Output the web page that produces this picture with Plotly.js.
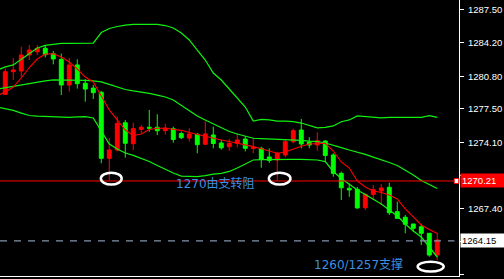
<!DOCTYPE html>
<html>
<head>
<meta charset="utf-8">
<script src="https://cdn.plot.ly/plotly-3.0.1.min.js"></script>
<style>html,body{margin:0;padding:0;background:#000;}#chart{width:504px;height:279px;}</style>
</head>
<body>
<div id="chart"></div>
<script>
// ---- data ----
const candleIdx = Array.from({length: 55}, (_, i) => i);
const openP  = [1278.97,1281.26,1281.33,1282.95,1283.28,1283.63,1283.08,1282.50,1279.92,1281.94,1280.09,1279.60,1279.18,1272.50,1273.34,1276.10,1273.98,1275.43,1275.64,1275.64,1275.30,1275.50,1275.00,1274.55,1274.93,1273.92,1274.86,1274.05,1273.67,1274.02,1274.45,1273.51,1273.51,1272.64,1272.33,1272.84,1274.18,1275.36,1274.12,1273.85,1274.25,1272.84,1270.98,1269.47,1269.37,1267.51,1268.86,1269.20,1269.57,1267.10,1266.54,1265.86,1265.58,1264.92,1262.72];
const highP  = [1281.60,1282.65,1283.79,1283.96,1283.96,1283.89,1283.35,1283.10,1282.65,1282.51,1280.50,1279.92,1279.30,1274.55,1276.71,1276.37,1276.10,1275.87,1277.39,1276.96,1276.00,1275.70,1275.20,1275.54,1275.05,1276.27,1275.70,1274.35,1274.45,1275.03,1274.75,1274.52,1273.67,1273.51,1273.17,1274.42,1275.50,1276.48,1274.63,1275.13,1274.35,1273.01,1271.15,1269.97,1269.60,1268.96,1269.80,1269.90,1270.03,1268.12,1266.77,1265.86,1265.86,1264.92,1264.98];
const lowP   = [1278.90,1280.42,1280.69,1282.44,1282.95,1282.70,1282.00,1278.90,1279.24,1279.55,1278.23,1278.50,1272.00,1270.25,1273.20,1272.57,1273.34,1275.03,1275.19,1274.85,1274.90,1274.08,1274.45,1274.20,1273.01,1273.85,1273.50,1273.38,1273.25,1273.60,1273.20,1273.00,1271.55,1272.03,1270.25,1272.60,1274.02,1273.50,1273.51,1273.27,1272.15,1270.64,1268.29,1268.60,1267.42,1267.27,1268.29,1267.80,1266.77,1266.43,1264.92,1265.08,1263.73,1262.55,1262.22];
const closeP = [1281.26,1281.43,1282.95,1283.45,1283.63,1282.98,1282.55,1279.92,1281.94,1280.05,1279.50,1279.14,1272.50,1273.34,1276.04,1274.02,1275.50,1275.64,1275.55,1275.29,1275.56,1274.40,1274.59,1274.96,1273.88,1274.96,1274.00,1273.56,1274.02,1274.35,1273.51,1273.60,1272.40,1272.28,1273.01,1274.18,1275.30,1273.95,1273.85,1274.28,1272.79,1270.98,1269.52,1269.30,1267.48,1268.86,1269.33,1269.50,1267.00,1266.43,1265.83,1265.42,1264.92,1262.72,1264.24];

// indicator lines start one bar before the first visible candle
const lineIdx = Array.from({length: 56}, (_, i) => i - 1);
const bbUpper = [1281.43,1281.74,1281.94,1282.54,1283.15,1283.66,1283.93,1284.06,1284.13,1284.13,1284.13,1284.13,1284.16,1285.22,1285.63,1285.83,1285.98,1286.05,1286.05,1286.05,1286.05,1285.93,1285.68,1285.17,1284.47,1283.45,1282.44,1281.13,1280.42,1279.51,1278.55,1277.69,1276.27,1276.43,1276.38,1276.27,1276.27,1276.22,1276.07,1275.82,1275.57,1275.62,1275.77,1276.20,1276.38,1276.78,1276.73,1276.63,1276.58,1276.65,1276.65,1276.65,1276.65,1276.65,1276.81,1276.63];
const bbMiddle = [1279.51,1279.66,1279.81,1279.94,1280.10,1280.22,1280.34,1280.42,1280.42,1280.42,1280.42,1280.39,1280.32,1280.22,1279.97,1279.71,1279.46,1279.31,1279.21,1279.06,1278.90,1278.70,1278.40,1277.84,1277.29,1276.78,1276.38,1275.97,1275.57,1275.21,1274.96,1274.71,1274.53,1274.50,1274.47,1274.45,1274.42,1274.38,1274.32,1274.25,1274.20,1274.05,1273.85,1273.59,1273.34,1273.14,1272.89,1272.63,1272.38,1272.08,1271.77,1271.32,1270.81,1270.26,1269.85,1269.45];
const bbLower = [1277.69,1277.54,1277.34,1277.08,1276.83,1276.76,1276.72,1276.68,1276.65,1276.65,1276.68,1276.71,1276.58,1275.26,1273.95,1273.44,1273.04,1272.79,1272.48,1272.18,1271.77,1271.37,1271.02,1270.71,1270.64,1270.64,1270.76,1270.91,1270.97,1271.17,1271.52,1271.93,1272.33,1272.38,1272.40,1272.40,1272.40,1272.40,1272.40,1272.38,1272.33,1272.16,1271.17,1270.46,1269.85,1269.30,1268.84,1268.39,1267.88,1267.27,1266.67,1265.86,1265.15,1264.54,1263.53,1262.52];
const maLine = [1278.85,1279.21,1279.71,1280.62,1281.68,1282.54,1283.05,1283.07,1282.75,1282.24,1281.53,1280.72,1280.22,1278.80,1277.39,1276.38,1275.36,1274.81,1274.96,1275.42,1275.54,1275.54,1275.47,1275.33,1275.11,1274.91,1274.71,1274.53,1274.35,1274.20,1274.05,1273.85,1273.68,1273.47,1273.24,1273.01,1273.14,1273.44,1273.72,1273.95,1274.02,1274.02,1273.24,1272.13,1271.52,1270.21,1269.60,1269.20,1269.04,1268.79,1268.39,1267.38,1266.57,1265.76,1265.30,1264.90];

const tickVals = [1287.50,1284.20,1280.80,1277.50,1274.10,1270.80,1267.40,1264.10,1260.80];
// labels at 1270.80 and 1264.10 are covered by the price boxes in the reference
const tickText = ['1287.50','1284.20','1280.80','1277.50','1274.10','','1267.40','','1260.80'];
const resistanceLevel = 1270.21;
const lastPrice = 1264.15;
const noteTexts = ['1270由支转阻', '1260/1257支撑'];

// ---- traces ----
const UP = '#ff0000', DOWN = '#00ff00', BAND = '#10f010';
const traces = [
  {type:'scatter', mode:'lines', x: lineIdx, y: bbUpper, line:{color:BAND, width:1.25}, hoverinfo:'skip'},
  {type:'scatter', mode:'lines', x: lineIdx, y: bbMiddle, line:{color:BAND, width:1.25}, hoverinfo:'skip'},
  {type:'scatter', mode:'lines', x: lineIdx, y: bbLower, line:{color:BAND, width:1.25}, hoverinfo:'skip'},
  {type:'candlestick', x: candleIdx, open: openP, high: highP, low: lowP, close: closeP,
   increasing:{line:{color:UP, width:1}, fillcolor:UP},
   decreasing:{line:{color:DOWN, width:1}, fillcolor:DOWN},
   whiskerwidth:0, hoverinfo:'skip'},
  {type:'scatter', mode:'lines', x: lineIdx, y: maLine, line:{color:'#ff0000', width:1.1}, hoverinfo:'skip'}
];

const layout = {
  width: 504, height: 279,
  margin: {l:0, r:45, t:0, b:3, pad:0},
  paper_bgcolor:'#000', plot_bgcolor:'#000',
  showlegend:false,
  xaxis: {range:[-0.66, 56.715], showgrid:false, zeroline:false, showticklabels:false, ticks:'',
          showline:true, linecolor:'#ffffff', linewidth:1, rangeslider:{visible:false}, fixedrange:true},
  yaxis: {side:'right', range:[1260.60, 1288.51], showgrid:false, zeroline:false,
          tickmode:'array', tickvals: tickVals, ticktext: tickText,
          ticks:'outside', ticklen:4, tickcolor:'#ffffff', ticklabelstandoff:2,
          showline:true, linecolor:'#ffffff', linewidth:1,
          tickfont:{family:'Liberation Sans, Arial, sans-serif', size:9.5, color:'#ffffff'}},
  shapes: [
    {type:'line', xref:'paper', x0:0, x1:1, yref:'y', y0:resistanceLevel, y1:resistanceLevel, line:{color:'#ff0000', width:1}},
    {type:'line', xref:'paper', x0:0, x1:0.99, yref:'y', y0:lastPrice, y1:lastPrice, line:{color:'#8294aa', width:1.2, dash:'7px,7px'}},
    {type:'rect', xref:'paper', x0:0.9895, x1:0.9995, yref:'y', y0:resistanceLevel-0.25, y1:resistanceLevel+0.25, fillcolor:'#ffffff', line:{color:'#ff0000', width:1}},
    {type:'circle', xref:'x', yref:'y', x0:11.95, x1:14.55, y0:1269.85, y1:1271.05, line:{color:'#ffffff', width:2.5}},
    {type:'circle', xref:'x', yref:'y', x0:32.95, x1:35.65, y0:1269.85, y1:1271.05, line:{color:'#ffffff', width:2.5}},
    {type:'circle', xref:'x', yref:'y', x0:51.55, x1:54.8, y0:1261.05, y1:1262.05, line:{color:'#ffffff', width:2.5}}
  ],
  annotations: [
    {xref:'paper', x:1, xanchor:'left', xshift:1, yref:'y', y:resistanceLevel, yanchor:'middle',
     text: resistanceLevel.toFixed(2), showarrow:false, bgcolor:'#ff0000', width:43, height:11, align:'left',
     font:{family:'Liberation Sans, Arial, sans-serif', size:9.5, color:'#ffffff'}},
    {xref:'paper', x:1, xanchor:'left', xshift:1, yref:'y', y:lastPrice, yanchor:'middle',
     text: lastPrice.toFixed(2), showarrow:false, bgcolor:'#ffffff', width:43, height:11, align:'left',
     font:{family:'Liberation Sans, Arial, sans-serif', size:9.5, color:'#000000'}},
    {xref:'x', x:26.28, yref:'y', y:1269.99, text: noteTexts[0], showarrow:false,
     font:{family:'DejaVu Sans, Noto Sans CJK SC, sans-serif', size:12, color:'#3d8fe0'}},
    {xref:'x', x:44.2, yref:'y', y:1261.81, text: noteTexts[1], showarrow:false,
     font:{family:'DejaVu Sans, Noto Sans CJK SC, sans-serif', size:12, color:'#3d8fe0'}}
  ]
};

Plotly.newPlot('chart', traces, layout, {staticPlot:true, displayModeBar:false});
</script>
</body>
</html>
